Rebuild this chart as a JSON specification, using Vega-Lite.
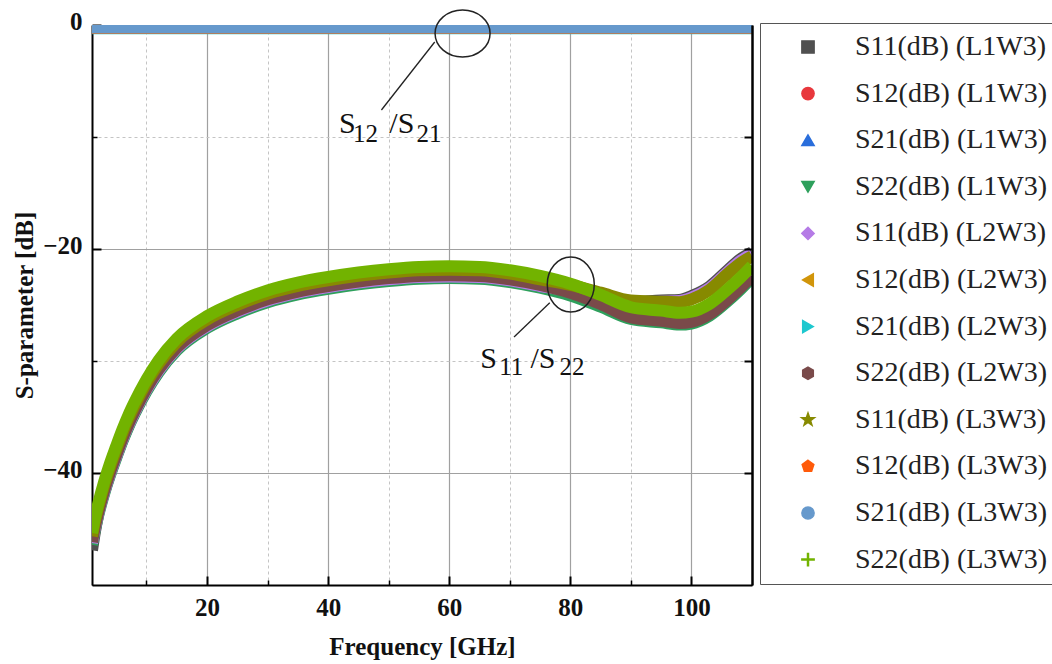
{
  "$schema": "https://vega.github.io/schema/vega-lite/v6.json",
  "width": 660,
  "height": 560,
  "autosize": "none",
  "padding": {"left": 92, "top": 25, "right": 300, "bottom": 79},
  "background": "white",
  "config": {"view": {"stroke": "#444", "strokeWidth": 1}, "font": "Liberation Serif"},
  "datasets": {
    "curves": [
      {"f":1,"S11(dB) (L1W3)":-46.9,"S12(dB) (L1W3)":-0.24,"S21(dB) (L1W3)":-0.24,"S22(dB) (L1W3)":-46.4,"S11(dB) (L2W3)":-46.25,"S12(dB) (L2W3)":-0.25,"S21(dB) (L2W3)":-0.3,"S22(dB) (L2W3)":-46.15,"S11(dB) (L3W3)":-45.65,"S12(dB) (L3W3)":-0.25,"S21(dB) (L3W3)":-0.2,"S22(dB) (L3W3)":-45.35},
      {"f":1.5,"S11(dB) (L1W3)":-45.2,"S12(dB) (L1W3)":-0.24,"S21(dB) (L1W3)":-0.24,"S22(dB) (L1W3)":-45.0,"S11(dB) (L2W3)":-44.85,"S12(dB) (L2W3)":-0.25,"S21(dB) (L2W3)":-0.3,"S22(dB) (L2W3)":-44.75,"S11(dB) (L3W3)":-44.25,"S12(dB) (L3W3)":-0.25,"S21(dB) (L3W3)":-0.2,"S22(dB) (L3W3)":-43.95},
      {"f":2,"S11(dB) (L1W3)":-43.75,"S12(dB) (L1W3)":-0.24,"S21(dB) (L1W3)":-0.24,"S22(dB) (L1W3)":-43.85,"S11(dB) (L2W3)":-43.7,"S12(dB) (L2W3)":-0.25,"S21(dB) (L2W3)":-0.3,"S22(dB) (L2W3)":-43.6,"S11(dB) (L3W3)":-43.1,"S12(dB) (L3W3)":-0.25,"S21(dB) (L3W3)":-0.2,"S22(dB) (L3W3)":-42.8},
      {"f":3,"S11(dB) (L1W3)":-41.75,"S12(dB) (L1W3)":-0.24,"S21(dB) (L1W3)":-0.24,"S22(dB) (L1W3)":-41.85,"S11(dB) (L2W3)":-41.7,"S12(dB) (L2W3)":-0.25,"S21(dB) (L2W3)":-0.3,"S22(dB) (L2W3)":-41.6,"S11(dB) (L3W3)":-41.1,"S12(dB) (L3W3)":-0.25,"S21(dB) (L3W3)":-0.2,"S22(dB) (L3W3)":-40.8},
      {"f":4,"S11(dB) (L1W3)":-40.05,"S12(dB) (L1W3)":-0.24,"S21(dB) (L1W3)":-0.24,"S22(dB) (L1W3)":-40.15,"S11(dB) (L2W3)":-40.0,"S12(dB) (L2W3)":-0.25,"S21(dB) (L2W3)":-0.3,"S22(dB) (L2W3)":-39.9,"S11(dB) (L3W3)":-39.4,"S12(dB) (L3W3)":-0.25,"S21(dB) (L3W3)":-0.2,"S22(dB) (L3W3)":-39.1},
      {"f":5,"S11(dB) (L1W3)":-38.55,"S12(dB) (L1W3)":-0.24,"S21(dB) (L1W3)":-0.24,"S22(dB) (L1W3)":-38.65,"S11(dB) (L2W3)":-38.5,"S12(dB) (L2W3)":-0.25,"S21(dB) (L2W3)":-0.3,"S22(dB) (L2W3)":-38.4,"S11(dB) (L3W3)":-37.9,"S12(dB) (L3W3)":-0.25,"S21(dB) (L3W3)":-0.2,"S22(dB) (L3W3)":-37.6},
      {"f":6,"S11(dB) (L1W3)":-37.1,"S12(dB) (L1W3)":-0.24,"S21(dB) (L1W3)":-0.24,"S22(dB) (L1W3)":-37.2,"S11(dB) (L2W3)":-37.05,"S12(dB) (L2W3)":-0.25,"S21(dB) (L2W3)":-0.3,"S22(dB) (L2W3)":-36.95,"S11(dB) (L3W3)":-36.45,"S12(dB) (L3W3)":-0.25,"S21(dB) (L3W3)":-0.2,"S22(dB) (L3W3)":-36.15},
      {"f":7,"S11(dB) (L1W3)":-35.8,"S12(dB) (L1W3)":-0.24,"S21(dB) (L1W3)":-0.24,"S22(dB) (L1W3)":-35.9,"S11(dB) (L2W3)":-35.75,"S12(dB) (L2W3)":-0.25,"S21(dB) (L2W3)":-0.3,"S22(dB) (L2W3)":-35.65,"S11(dB) (L3W3)":-35.15,"S12(dB) (L3W3)":-0.25,"S21(dB) (L3W3)":-0.2,"S22(dB) (L3W3)":-34.85},
      {"f":8,"S11(dB) (L1W3)":-34.65,"S12(dB) (L1W3)":-0.24,"S21(dB) (L1W3)":-0.24,"S22(dB) (L1W3)":-34.75,"S11(dB) (L2W3)":-34.6,"S12(dB) (L2W3)":-0.25,"S21(dB) (L2W3)":-0.3,"S22(dB) (L2W3)":-34.5,"S11(dB) (L3W3)":-34.0,"S12(dB) (L3W3)":-0.25,"S21(dB) (L3W3)":-0.2,"S22(dB) (L3W3)":-33.7},
      {"f":10,"S11(dB) (L1W3)":-32.6,"S12(dB) (L1W3)":-0.24,"S21(dB) (L1W3)":-0.24,"S22(dB) (L1W3)":-32.7,"S11(dB) (L2W3)":-32.55,"S12(dB) (L2W3)":-0.25,"S21(dB) (L2W3)":-0.3,"S22(dB) (L2W3)":-32.45,"S11(dB) (L3W3)":-31.95,"S12(dB) (L3W3)":-0.25,"S21(dB) (L3W3)":-0.2,"S22(dB) (L3W3)":-31.65},
      {"f":12,"S11(dB) (L1W3)":-30.9,"S12(dB) (L1W3)":-0.24,"S21(dB) (L1W3)":-0.24,"S22(dB) (L1W3)":-31.0,"S11(dB) (L2W3)":-30.85,"S12(dB) (L2W3)":-0.25,"S21(dB) (L2W3)":-0.3,"S22(dB) (L2W3)":-30.75,"S11(dB) (L3W3)":-30.25,"S12(dB) (L3W3)":-0.25,"S21(dB) (L3W3)":-0.2,"S22(dB) (L3W3)":-29.95},
      {"f":15,"S11(dB) (L1W3)":-28.95,"S12(dB) (L1W3)":-0.24,"S21(dB) (L1W3)":-0.24,"S22(dB) (L1W3)":-29.05,"S11(dB) (L2W3)":-28.9,"S12(dB) (L2W3)":-0.25,"S21(dB) (L2W3)":-0.3,"S22(dB) (L2W3)":-28.8,"S11(dB) (L3W3)":-28.3,"S12(dB) (L3W3)":-0.25,"S21(dB) (L3W3)":-0.2,"S22(dB) (L3W3)":-28.0},
      {"f":20,"S11(dB) (L1W3)":-26.95,"S12(dB) (L1W3)":-0.24,"S21(dB) (L1W3)":-0.24,"S22(dB) (L1W3)":-27.05,"S11(dB) (L2W3)":-26.9,"S12(dB) (L2W3)":-0.25,"S21(dB) (L2W3)":-0.3,"S22(dB) (L2W3)":-26.8,"S11(dB) (L3W3)":-26.3,"S12(dB) (L3W3)":-0.25,"S21(dB) (L3W3)":-0.2,"S22(dB) (L3W3)":-26.0},
      {"f":25,"S11(dB) (L1W3)":-25.65,"S12(dB) (L1W3)":-0.24,"S21(dB) (L1W3)":-0.24,"S22(dB) (L1W3)":-25.75,"S11(dB) (L2W3)":-25.6,"S12(dB) (L2W3)":-0.25,"S21(dB) (L2W3)":-0.3,"S22(dB) (L2W3)":-25.5,"S11(dB) (L3W3)":-25.0,"S12(dB) (L3W3)":-0.25,"S21(dB) (L3W3)":-0.2,"S22(dB) (L3W3)":-24.7},
      {"f":30,"S11(dB) (L1W3)":-24.65,"S12(dB) (L1W3)":-0.24,"S21(dB) (L1W3)":-0.24,"S22(dB) (L1W3)":-24.75,"S11(dB) (L2W3)":-24.6,"S12(dB) (L2W3)":-0.25,"S21(dB) (L2W3)":-0.3,"S22(dB) (L2W3)":-24.5,"S11(dB) (L3W3)":-24.0,"S12(dB) (L3W3)":-0.25,"S21(dB) (L3W3)":-0.2,"S22(dB) (L3W3)":-23.7},
      {"f":35,"S11(dB) (L1W3)":-23.95,"S12(dB) (L1W3)":-0.24,"S21(dB) (L1W3)":-0.24,"S22(dB) (L1W3)":-24.05,"S11(dB) (L2W3)":-23.9,"S12(dB) (L2W3)":-0.25,"S21(dB) (L2W3)":-0.3,"S22(dB) (L2W3)":-23.8,"S11(dB) (L3W3)":-23.3,"S12(dB) (L3W3)":-0.25,"S21(dB) (L3W3)":-0.2,"S22(dB) (L3W3)":-23.0},
      {"f":40,"S11(dB) (L1W3)":-23.45,"S12(dB) (L1W3)":-0.24,"S21(dB) (L1W3)":-0.24,"S22(dB) (L1W3)":-23.55,"S11(dB) (L2W3)":-23.4,"S12(dB) (L2W3)":-0.25,"S21(dB) (L2W3)":-0.3,"S22(dB) (L2W3)":-23.3,"S11(dB) (L3W3)":-22.8,"S12(dB) (L3W3)":-0.25,"S21(dB) (L3W3)":-0.2,"S22(dB) (L3W3)":-22.5},
      {"f":45,"S11(dB) (L1W3)":-23.05,"S12(dB) (L1W3)":-0.24,"S21(dB) (L1W3)":-0.24,"S22(dB) (L1W3)":-23.15,"S11(dB) (L2W3)":-23.0,"S12(dB) (L2W3)":-0.25,"S21(dB) (L2W3)":-0.3,"S22(dB) (L2W3)":-22.9,"S11(dB) (L3W3)":-22.4,"S12(dB) (L3W3)":-0.25,"S21(dB) (L3W3)":-0.2,"S22(dB) (L3W3)":-22.1},
      {"f":50,"S11(dB) (L1W3)":-22.75,"S12(dB) (L1W3)":-0.24,"S21(dB) (L1W3)":-0.24,"S22(dB) (L1W3)":-22.85,"S11(dB) (L2W3)":-22.7,"S12(dB) (L2W3)":-0.25,"S21(dB) (L2W3)":-0.3,"S22(dB) (L2W3)":-22.6,"S11(dB) (L3W3)":-22.1,"S12(dB) (L3W3)":-0.25,"S21(dB) (L3W3)":-0.2,"S22(dB) (L3W3)":-21.8},
      {"f":55,"S11(dB) (L1W3)":-22.55,"S12(dB) (L1W3)":-0.24,"S21(dB) (L1W3)":-0.24,"S22(dB) (L1W3)":-22.65,"S11(dB) (L2W3)":-22.5,"S12(dB) (L2W3)":-0.25,"S21(dB) (L2W3)":-0.3,"S22(dB) (L2W3)":-22.4,"S11(dB) (L3W3)":-21.9,"S12(dB) (L3W3)":-0.25,"S21(dB) (L3W3)":-0.2,"S22(dB) (L3W3)":-21.6},
      {"f":60,"S11(dB) (L1W3)":-22.5,"S12(dB) (L1W3)":-0.24,"S21(dB) (L1W3)":-0.24,"S22(dB) (L1W3)":-22.6,"S11(dB) (L2W3)":-22.45,"S12(dB) (L2W3)":-0.25,"S21(dB) (L2W3)":-0.3,"S22(dB) (L2W3)":-22.35,"S11(dB) (L3W3)":-21.85,"S12(dB) (L3W3)":-0.25,"S21(dB) (L3W3)":-0.2,"S22(dB) (L3W3)":-21.55},
      {"f":65,"S11(dB) (L1W3)":-22.55,"S12(dB) (L1W3)":-0.24,"S21(dB) (L1W3)":-0.24,"S22(dB) (L1W3)":-22.65,"S11(dB) (L2W3)":-22.5,"S12(dB) (L2W3)":-0.25,"S21(dB) (L2W3)":-0.3,"S22(dB) (L2W3)":-22.4,"S11(dB) (L3W3)":-21.9,"S12(dB) (L3W3)":-0.25,"S21(dB) (L3W3)":-0.2,"S22(dB) (L3W3)":-21.6},
      {"f":70,"S11(dB) (L1W3)":-22.85,"S12(dB) (L1W3)":-0.24,"S21(dB) (L1W3)":-0.24,"S22(dB) (L1W3)":-22.95,"S11(dB) (L2W3)":-22.8,"S12(dB) (L2W3)":-0.25,"S21(dB) (L2W3)":-0.3,"S22(dB) (L2W3)":-22.7,"S11(dB) (L3W3)":-22.2,"S12(dB) (L3W3)":-0.25,"S21(dB) (L3W3)":-0.2,"S22(dB) (L3W3)":-21.9},
      {"f":75,"S11(dB) (L1W3)":-23.35,"S12(dB) (L1W3)":-0.24,"S21(dB) (L1W3)":-0.24,"S22(dB) (L1W3)":-23.45,"S11(dB) (L2W3)":-23.3,"S12(dB) (L2W3)":-0.25,"S21(dB) (L2W3)":-0.3,"S22(dB) (L2W3)":-23.2,"S11(dB) (L3W3)":-22.7,"S12(dB) (L3W3)":-0.25,"S21(dB) (L3W3)":-0.2,"S22(dB) (L3W3)":-22.4},
      {"f":80,"S11(dB) (L1W3)":-23.7,"S12(dB) (L1W3)":-0.24,"S21(dB) (L1W3)":-0.24,"S22(dB) (L1W3)":-24.15,"S11(dB) (L2W3)":-23.7,"S12(dB) (L2W3)":-0.25,"S21(dB) (L2W3)":-0.3,"S22(dB) (L2W3)":-23.9,"S11(dB) (L3W3)":-23.2,"S12(dB) (L3W3)":-0.25,"S21(dB) (L3W3)":-0.2,"S22(dB) (L3W3)":-23.1},
      {"f":85,"S11(dB) (L1W3)":-24.15,"S12(dB) (L1W3)":-0.24,"S21(dB) (L1W3)":-0.24,"S22(dB) (L1W3)":-25.15,"S11(dB) (L2W3)":-24.2,"S12(dB) (L2W3)":-0.25,"S21(dB) (L2W3)":-0.3,"S22(dB) (L2W3)":-24.9,"S11(dB) (L3W3)":-23.9,"S12(dB) (L3W3)":-0.25,"S21(dB) (L3W3)":-0.2,"S22(dB) (L3W3)":-24.1},
      {"f":90,"S11(dB) (L1W3)":-24.75,"S12(dB) (L1W3)":-0.24,"S21(dB) (L1W3)":-0.24,"S22(dB) (L1W3)":-26.25,"S11(dB) (L2W3)":-24.85,"S12(dB) (L2W3)":-0.25,"S21(dB) (L2W3)":-0.3,"S22(dB) (L2W3)":-26.1,"S11(dB) (L3W3)":-24.6,"S12(dB) (L3W3)":-0.25,"S21(dB) (L3W3)":-0.2,"S22(dB) (L3W3)":-25.2},
      {"f":95,"S11(dB) (L1W3)":-24.6,"S12(dB) (L1W3)":-0.24,"S21(dB) (L1W3)":-0.24,"S22(dB) (L1W3)":-26.55,"S11(dB) (L2W3)":-24.7,"S12(dB) (L2W3)":-0.25,"S21(dB) (L2W3)":-0.3,"S22(dB) (L2W3)":-26.4,"S11(dB) (L3W3)":-24.7,"S12(dB) (L3W3)":-0.25,"S21(dB) (L3W3)":-0.2,"S22(dB) (L3W3)":-25.5},
      {"f":98,"S11(dB) (L1W3)":-24.55,"S12(dB) (L1W3)":-0.24,"S21(dB) (L1W3)":-0.24,"S22(dB) (L1W3)":-26.75,"S11(dB) (L2W3)":-24.65,"S12(dB) (L2W3)":-0.25,"S21(dB) (L2W3)":-0.3,"S22(dB) (L2W3)":-26.6,"S11(dB) (L3W3)":-24.75,"S12(dB) (L3W3)":-0.25,"S21(dB) (L3W3)":-0.2,"S22(dB) (L3W3)":-25.7},
      {"f":100,"S11(dB) (L1W3)":-24.2,"S12(dB) (L1W3)":-0.24,"S21(dB) (L1W3)":-0.24,"S22(dB) (L1W3)":-26.65,"S11(dB) (L2W3)":-24.35,"S12(dB) (L2W3)":-0.25,"S21(dB) (L2W3)":-0.3,"S22(dB) (L2W3)":-26.5,"S11(dB) (L3W3)":-24.5,"S12(dB) (L3W3)":-0.25,"S21(dB) (L3W3)":-0.2,"S22(dB) (L3W3)":-25.6},
      {"f":103,"S11(dB) (L1W3)":-23.35,"S12(dB) (L1W3)":-0.24,"S21(dB) (L1W3)":-0.24,"S22(dB) (L1W3)":-25.95,"S11(dB) (L2W3)":-23.5,"S12(dB) (L2W3)":-0.25,"S21(dB) (L2W3)":-0.3,"S22(dB) (L2W3)":-25.8,"S11(dB) (L3W3)":-23.65,"S12(dB) (L3W3)":-0.25,"S21(dB) (L3W3)":-0.2,"S22(dB) (L3W3)":-24.9},
      {"f":106,"S11(dB) (L1W3)":-21.9,"S12(dB) (L1W3)":-0.24,"S21(dB) (L1W3)":-0.24,"S22(dB) (L1W3)":-24.65,"S11(dB) (L2W3)":-22.05,"S12(dB) (L2W3)":-0.25,"S21(dB) (L2W3)":-0.3,"S22(dB) (L2W3)":-24.5,"S11(dB) (L3W3)":-22.2,"S12(dB) (L3W3)":-0.25,"S21(dB) (L3W3)":-0.2,"S22(dB) (L3W3)":-23.6},
      {"f":108,"S11(dB) (L1W3)":-20.95,"S12(dB) (L1W3)":-0.24,"S21(dB) (L1W3)":-0.24,"S22(dB) (L1W3)":-23.65,"S11(dB) (L2W3)":-21.1,"S12(dB) (L2W3)":-0.25,"S21(dB) (L2W3)":-0.3,"S22(dB) (L2W3)":-23.5,"S11(dB) (L3W3)":-21.3,"S12(dB) (L3W3)":-0.25,"S21(dB) (L3W3)":-0.2,"S22(dB) (L3W3)":-22.6},
      {"f":110,"S11(dB) (L1W3)":-20.3,"S12(dB) (L1W3)":-0.24,"S21(dB) (L1W3)":-0.24,"S22(dB) (L1W3)":-22.55,"S11(dB) (L2W3)":-20.45,"S12(dB) (L2W3)":-0.25,"S21(dB) (L2W3)":-0.3,"S22(dB) (L2W3)":-22.4,"S11(dB) (L3W3)":-20.65,"S12(dB) (L3W3)":-0.25,"S21(dB) (L3W3)":-0.2,"S22(dB) (L3W3)":-21.5}
    ],
    "links": [
      {"f": 57.6, "db": -1.52, "f2": 48.8, "db2": -7.59},
      {"f": 76.6, "db": -24.8, "f2": 70.7, "db2": -27.86}
    ],
    "big": [
      {"t": "S", "f": 41.8, "db": -9.64},
      {"t": "/S", "f": 50.1, "db": -9.64},
      {"t": "S", "f": 65.1, "db": -30.6},
      {"t": "/S", "f": 73.4, "db": -30.6}
    ],
    "small": [
      {"t": "12", "f": 44.1, "db": -10.45},
      {"t": "21", "f": 54.6, "db": -10.45},
      {"t": "11", "f": 68.25, "db": -31.25},
      {"t": "22", "f": 78.2, "db": -31.25}
    ],
    "ell1": [{"f": 62.2, "db": -0.76}],
    "ell2": [{"f": 80.07, "db": -23.17}]
  },
  "layer": [
    {
      "data": {"name": "curves"},
      "transform": [{"fold": ["S11(dB) (L1W3)","S12(dB) (L1W3)","S21(dB) (L1W3)","S22(dB) (L1W3)","S11(dB) (L2W3)","S12(dB) (L2W3)","S21(dB) (L2W3)","S22(dB) (L2W3)","S11(dB) (L3W3)","S12(dB) (L3W3)","S21(dB) (L3W3)","S22(dB) (L3W3)"], "as": ["series", "db"]}],
      "mark": {"type": "line", "strokeWidth": 12, "clip": true, "interpolate": "monotone", "strokeCap": "butt", "strokeJoin": "round"},
      "encoding": {
        "x": {"field": "f", "type": "quantitative", "scale": {"domain": [1, 110], "nice": false, "zero": false},
          "axis": {"orient": "bottom", "values": [20, 40, 60, 80, 100], "grid": true, "gridColor": "#a0a0a0", "gridWidth": 1.2,
            "domainColor": "#000", "domainWidth": 2, "tickColor": "#000", "tickWidth": 2, "tickSize": -9,
            "labelFont": "Liberation Serif", "labelFontSize": 25, "labelFontWeight": "bold", "labelColor": "#111", "labelPadding": 19,
            "title": "Frequency [GHz]", "titleFont": "Liberation Serif", "titleFontSize": 25, "titleFontWeight": "bold", "titleColor": "#111", "titlePadding": 14}},
        "y": {"field": "db", "type": "quantitative", "scale": {"domain": [-50, 0], "nice": false, "zero": false},
          "axis": {"orient": "left", "values": [0, -20, -40], "grid": true, "gridColor": "#a0a0a0", "gridWidth": 1.2,
            "domainColor": "#000", "domainWidth": 2, "tickColor": "#000", "tickWidth": 2, "tickSize": -9,
            "labelFont": "Liberation Serif", "labelFontSize": 25, "labelFontWeight": "bold", "labelColor": "#111", "labelPadding": 19, "labelOffset": -4,
            "title": "S-parameter [dB]", "titleFont": "Liberation Serif", "titleFontSize": 25, "titleFontWeight": "bold", "titleColor": "#111", "titlePadding": 5}},
        "color": {"field": "series", "type": "nominal",
          "scale": {"domain": ["S11(dB) (L1W3)","S12(dB) (L1W3)","S21(dB) (L1W3)","S22(dB) (L1W3)","S11(dB) (L2W3)","S12(dB) (L2W3)","S21(dB) (L2W3)","S22(dB) (L2W3)","S11(dB) (L3W3)","S12(dB) (L3W3)","S21(dB) (L3W3)","S22(dB) (L3W3)"],
            "range": ["#505050","#e8383d","#2a6edb","#2ea05c","#b57be6","#d1950a","#1ec8cf","#7a4a4a","#878a00","#ff5b0a","#6699cc","#72b300"]},
          "legend": {"title": null, "orient": "none", "legendX": 668, "legendY": -2, "padding": 10, "strokeColor": "#555",
            "symbolSize": 150, "symbolOffset": 24, "labelOffset": 33, "labelFont": "Liberation Serif", "labelFontSize": 28, "labelColor": "#222",
            "labelLimit": 300, "rowPadding": 18.6, "fillColor": "white",
            "encode": {"symbols": {"update": {"fill": {"scale": "color", "field": "value"}, "stroke": {"value": "transparent"}, "opacity": {"value": 1}}}}}}
      }
    },
    {
      "data": {"name": "curves"},
      "transform": [{"fold": ["S11(dB) (L1W3)","S12(dB) (L1W3)","S21(dB) (L1W3)","S22(dB) (L1W3)","S11(dB) (L2W3)","S12(dB) (L2W3)","S21(dB) (L2W3)","S22(dB) (L2W3)","S11(dB) (L3W3)","S12(dB) (L3W3)","S21(dB) (L3W3)","S22(dB) (L3W3)"], "as": ["series", "db"]}],
      "mark": {"type": "point", "filled": true, "opacity": 0, "size": 10, "clip": true},
      "encoding": {
        "x": {"field": "f", "type": "quantitative",
          "axis": {"orient": "bottom", "values": [10, 30, 50, 70, 90], "grid": true, "gridColor": "#c4c4c4", "gridWidth": 1, "gridDash": [3, 3],
            "domain": false, "tickColor": "#000", "tickWidth": 1.5, "tickSize": -5, "labels": false, "title": null}},
        "y": {"field": "db", "type": "quantitative",
          "axis": {"orient": "left", "values": [-10, -30], "grid": true, "gridColor": "#c4c4c4", "gridWidth": 1, "gridDash": [3, 3],
            "domain": false, "tickColor": "#000", "tickWidth": 1.5, "tickSize": -5, "labels": false, "title": null}},
        "color": {"field": "series", "type": "nominal",
          "legend": {"title": null, "orient": "none", "legendX": 668, "legendY": -2, "padding": 10, "strokeColor": "#555",
            "symbolSize": 150, "symbolOffset": 24, "labelOffset": 33, "labelFont": "Liberation Serif", "labelFontSize": 28, "labelColor": "#222",
            "labelLimit": 300, "rowPadding": 18.6, "fillColor": "white",
            "encode": {"symbols": {"update": {"fill": {"scale": "color", "field": "value"}, "stroke": {"value": "transparent"}, "opacity": {"value": 1}}}}}},
        "shape": {"field": "series", "type": "nominal",
          "scale": {"domain": ["S11(dB) (L1W3)","S12(dB) (L1W3)","S21(dB) (L1W3)","S22(dB) (L1W3)","S11(dB) (L2W3)","S12(dB) (L2W3)","S21(dB) (L2W3)","S22(dB) (L2W3)","S11(dB) (L3W3)","S12(dB) (L3W3)","S21(dB) (L3W3)","S22(dB) (L3W3)"],
            "range": ["square","circle","triangle-up","triangle-down","diamond","triangle-left","triangle-right",
              "M0,-1L0.866,-0.5L0.866,0.5L0,1L-0.866,0.5L-0.866,-0.5Z",
              "M0,-1.1L0.26,-0.36L1.05,-0.34L0.42,0.14L0.65,0.89L0,0.44L-0.65,0.89L-0.42,0.14L-1.05,-0.34L-0.26,-0.36Z",
              "M0,-1L0.951,-0.309L0.588,0.809L-0.588,0.809L-0.951,-0.309Z",
              "circle",
              "M-1,-0.08H1V0.08H-1ZM-0.08,-1H0.08V1H-0.08Z"]},
          "legend": {"title": null, "orient": "none", "legendX": 668, "legendY": -2, "padding": 10, "strokeColor": "#555",
            "symbolSize": 150, "symbolOffset": 24, "labelOffset": 33, "labelFont": "Liberation Serif", "labelFontSize": 28, "labelColor": "#222",
            "labelLimit": 300, "rowPadding": 18.6, "fillColor": "white",
            "encode": {"symbols": {"update": {"fill": {"scale": "color", "field": "value"}, "stroke": {"value": "transparent"}, "opacity": {"value": 1}}}}}}
      }
    },
    {
      "data": {"name": "links"},
      "mark": {"type": "rule", "color": "#222", "strokeWidth": 1.3},
      "encoding": {
        "x": {"field": "f", "type": "quantitative", "axis": null},
        "y": {"field": "db", "type": "quantitative",
          "axis": {"orient": "right", "values": [-10, -20, -30, -40], "grid": false, "domainColor": "#000", "domainWidth": 2.5,
            "tickColor": "#000", "tickWidth": 2, "tickSize": -8, "labels": false, "title": null, "zindex": 1}},
        "x2": {"field": "f2"},
        "y2": {"field": "db2"}
      }
    },
    {
      "data": {"name": "big"},
      "mark": {"type": "text", "font": "Liberation Serif", "fontSize": 30, "align": "left", "baseline": "alphabetic", "color": "#111"},
      "encoding": {
        "x": {"field": "f", "type": "quantitative", "axis": null},
        "y": {"field": "db", "type": "quantitative", "axis": null},
        "text": {"field": "t"}
      }
    },
    {
      "data": {"name": "small"},
      "mark": {"type": "text", "font": "Liberation Serif", "fontSize": 25, "align": "left", "baseline": "alphabetic", "color": "#111"},
      "encoding": {
        "x": {"field": "f", "type": "quantitative", "axis": null},
        "y": {"field": "db", "type": "quantitative", "axis": null},
        "text": {"field": "t"}
      }
    },
    {
      "data": {"name": "ell1"},
      "mark": {"type": "point", "shape": "M-1,0A1,0.855,0,1,1,1,0A1,0.855,0,1,1,-1,0Z", "size": 3025, "filled": false, "stroke": "#222", "color": "#222", "strokeWidth": 1.5, "opacity": 1},
      "encoding": {
        "x": {"field": "f", "type": "quantitative", "axis": null},
        "y": {"field": "db", "type": "quantitative", "axis": null}
      }
    },
    {
      "data": {"name": "ell2"},
      "mark": {"type": "point", "shape": "M-0.855,0A0.855,1,0,1,1,0.855,0A0.855,1,0,1,1,-0.855,0Z", "size": 3025, "filled": false, "stroke": "#222", "color": "#222", "strokeWidth": 1.5, "opacity": 1},
      "encoding": {
        "x": {"field": "f", "type": "quantitative", "axis": null},
        "y": {"field": "db", "type": "quantitative", "axis": null}
      }
    }
  ],
  "resolve": {"axis": {"x": "independent", "y": "independent"}}
}
